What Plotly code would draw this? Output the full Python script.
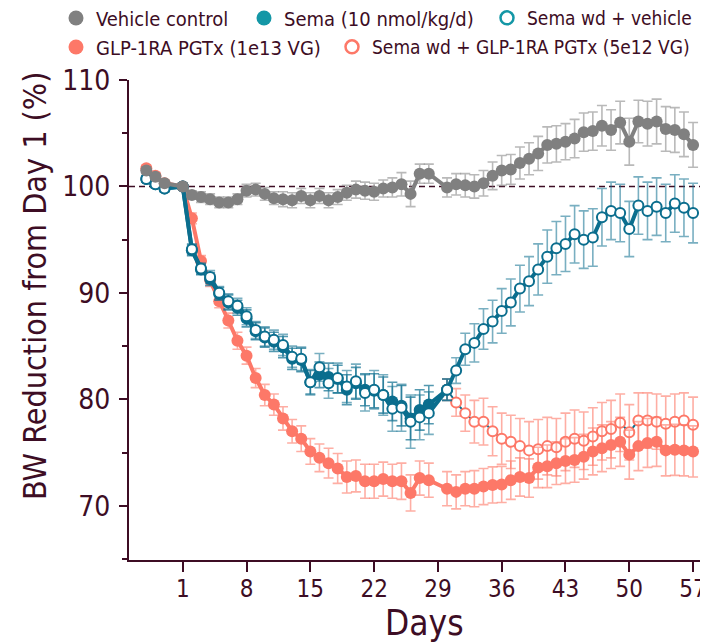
import plotly.graph_objects as go

days = [-3, -2, -1] + list(range(1, 29)) + list(range(30, 58))
days_wd = list(range(30, 58))

vehicle = [101.5, 100.9, 100.3, 100.0,
           99.2, 99.0, 98.8, 98.5, 98.5, 98.8, 99.6, 99.7, 99.3, 98.9, 98.8, 98.7, 99.1, 98.7,
           99.1, 98.7, 99.0, 99.4, 99.7, 99.6, 99.5, 99.8, 99.9, 100.2, 99.3, 101.2, 101.2,
           99.9, 100.2, 100.1, 100.0, 100.3, 101.0, 101.5, 101.6, 102.2, 102.6, 103.1, 103.9,
           104.0, 104.2, 104.5, 105.1, 105.2, 105.7, 105.3, 106.0, 104.2, 106.1, 105.9, 106.1,
           105.4, 105.3, 104.9, 103.9]
vehicle_err = [0.3, 0.3, 0.3, 0.0,
               0.4, 0.5, 0.5, 0.5, 0.5, 0.5, 0.6, 0.6, 0.6, 0.6, 0.7, 0.7, 0.7, 0.7,
               0.7, 0.7, 0.7, 0.7, 0.8, 0.8, 0.8, 0.8, 0.9, 1.1, 1.2, 0.9, 0.9,
               0.9, 1.0, 1.1, 1.1, 1.2, 1.3, 1.4, 1.4, 1.5, 1.5, 1.6, 1.7,
               1.7, 1.7, 1.8, 1.8, 1.8, 1.9, 1.9, 2.0, 2.2, 2.0, 2.1, 2.1,
               2.1, 2.1, 2.1, 2.1]

sema_days = [-3, -2, -1] + list(range(1, 29)) + [30]
sema = [100.7, 100.2, 99.8, 100.0,
        94.0, 92.2, 91.3, 89.9, 89.1, 88.6, 87.6, 86.4, 85.8, 85.4, 84.9, 83.8, 83.7, 81.6,
        82.3, 82.1, 81.9, 80.9, 81.5, 80.9, 80.8, 80.4, 79.8, 79.4, 78.2, 79.0, 79.5,
        80.9]
sema_err = [0.3, 0.3, 0.3, 0.0,
            0.5, 0.5, 0.6, 0.6, 0.7, 0.7, 0.8, 0.8, 0.9, 0.9, 1.0, 1.0, 1.1, 1.1,
            1.2, 1.3, 1.3, 1.4, 1.5, 1.5, 1.6, 1.7, 1.8, 1.9, 2.0, 1.9, 1.8,
            1.0]

sema_wd_veh = [100.7, 100.2, 99.8, 100.0,
               94.1, 92.3, 91.5, 90.0, 89.2, 88.8, 87.8, 86.5, 85.9, 85.6, 85.1, 84.0, 83.8, 81.6,
               83.0, 81.5, 82.0, 81.2, 81.7, 80.6, 80.9, 80.4, 79.1, 79.2, 77.9, 78.3, 78.7,
               80.9, 82.7, 84.7, 85.3, 86.6, 87.3, 88.3, 89.1, 90.4, 91.1, 92.2, 93.4,
               94.2, 94.6, 95.5, 95.0, 95.2, 97.1, 97.7, 97.5, 96.0, 98.2, 97.7, 98.1,
               97.5, 98.4, 98.0, 97.5]
sema_wd_veh_err = [0.3, 0.3, 0.3, 0.0,
                   0.5, 0.5, 0.6, 0.6, 0.7, 0.7, 0.8, 0.8, 0.9, 0.9, 1.0, 1.0, 1.1, 1.2,
                   1.3, 1.4, 1.4, 1.5, 1.6, 1.7, 1.8, 1.9, 2.1, 2.2, 2.5, 2.1, 2.0,
                   1.0, 1.2, 1.5, 1.8, 1.9, 2.0, 2.1, 2.2, 2.2, 2.3, 2.4, 2.5,
                   2.5, 2.6, 2.7, 2.7, 2.7, 2.7, 2.7, 2.7, 2.6, 2.7, 2.7, 2.7,
                   2.7, 2.7, 2.7, 2.8]

glp = [101.7, 101.0, 100.3, 100.0,
       97.0, 93.0, 91.2, 89.2, 87.4, 85.5, 84.1, 82.0, 80.4, 79.5, 78.2, 77.0, 76.3, 75.1,
       74.5, 74.0, 73.5, 72.7, 72.8, 72.3, 72.3, 72.5, 72.3, 72.3, 71.2, 72.6, 72.4,
       71.6, 71.3, 71.6, 71.6, 71.8, 71.95, 72.0, 72.4, 72.7, 72.6, 73.6, 73.7,
       74.0, 74.2, 74.3, 74.6, 75.1, 75.4, 75.7, 76.0, 74.8, 75.6, 75.9, 76.0,
       75.2, 75.25, 75.2, 75.1]
glp_err = [0.3, 0.3, 0.3, 0.0,
           0.5, 0.5, 0.6, 0.6, 0.7, 0.8, 0.8, 0.9, 1.0, 1.0, 1.1, 1.1, 1.2, 1.2,
           1.3, 1.4, 1.4, 1.5, 1.5, 1.6, 1.6, 1.6, 1.6, 1.7, 1.7, 1.6, 1.6,
           1.6, 1.6, 1.6, 1.7, 1.7, 1.7, 1.7, 1.8, 1.8, 1.8, 1.9, 2.0,
           2.0, 2.1, 2.1, 2.1, 2.2, 2.2, 2.2, 2.3, 2.3, 2.3, 2.3, 2.3,
           2.4, 2.4, 2.4, 2.4]

sema_wd_glp = [80.9, 79.7, 78.7, 77.9, 77.9, 77.0, 76.3, 76.0, 75.6, 75.2, 75.3, 75.6,
               75.5, 76.0, 76.3, 76.1, 76.5, 77.0, 77.2, 77.8, 76.9, 78.0, 78.0, 77.9,
               77.7, 77.9, 78.0, 77.6]
sema_wd_glp_err = [1.0, 1.3, 1.7, 2.0, 2.2, 2.3, 2.4, 2.5, 2.6, 2.7, 2.8, 2.7,
                   2.7, 2.7, 2.7, 2.7, 2.7, 2.7, 2.7, 2.7, 2.6, 2.6, 2.6, 2.6,
                   2.6, 2.6, 2.6, 2.6]

x_ticks = [1, 8, 15, 22, 29, 36, 43, 50, 57]
y_ticks = [70, 80, 90, 100, 110]
x_title = "Days"
y_title = "BW Reduction from Day 1 (%)"

GRAY = "#808080"
TEAL = "#0b6e8e"
TEAL_LEG = "#1497a6"
SALMON = "#fd7868"
AXIS = "#3d0d24"
FONT = "DejaVu Sans Condensed, Liberation Sans Narrow, Arial Narrow, Arial, sans-serif"

W, H = 700, 634   # page body has an 8px margin inside the 708x642 window
OFF = 8
ML, MR, MT, MB = 129 - OFF, 4, 80 - OFF, 82
PW, PH = W - ML - MR, H - MT - MB

fig = go.Figure()

def add_series(x, y, err, color, err_color, filled, line_color=None, lw=4):
    fig.add_trace(go.Scatter(
        x=x, y=y, mode="lines+markers", showlegend=False,
        line=dict(color=line_color or color, width=lw),
        marker=dict(size=12 if filled else 10,
                    color=color if filled else "white",
                    line=dict(color=color, width=0 if filled else 2)),
        error_y=dict(type="data", array=err, visible=True, color=err_color,
                     thickness=1.6, width=5),
    ))

add_series(days_wd, sema_wd_glp, sema_wd_glp_err, SALMON, "rgba(253,120,104,0.6)", False, line_color=TEAL, lw=2)
add_series(days, glp, glp_err, SALMON, "rgba(253,120,104,0.6)", True)
add_series(sema_days, sema, sema_err, TEAL, "rgba(11,110,142,0.7)", True)
add_series(days, sema_wd_veh, sema_wd_veh_err, TEAL, "rgba(11,110,142,0.55)", False)
add_series(days, vehicle, vehicle_err, GRAY, "rgba(128,128,128,0.55)", True)

legend_items = [
    ("Vehicle control", GRAY, True, 77, 18, 20),
    ("Sema (10 nmol/kg/d)", TEAL_LEG, True, 265, 18, 20),
    ("Sema wd + vehicle", TEAL_LEG, False, 508, 18, 19),
    ("GLP-1RA PGTx (1e13 VG)", SALMON, True, 77, 47, 20),
    ("Sema wd + GLP-1RA PGTx (5e12 VG)", SALMON, False, 353, 47, 19),
]
legends = {}
for i, (name, color, filled, cx, cy, fs) in enumerate(legend_items):
    key = "legend" if i == 0 else f"legend{i+1}"
    fig.add_trace(go.Scatter(
        x=[None], y=[None], mode="markers", name=name, legend=key,
        marker=dict(size=15 if filled else 13, color=color if filled else "white",
                    line=dict(color=color, width=0 if filled else 2.5)),
    ))
    legends[key] = dict(
        x=(cx - OFF - 21) / W, y=1 - (cy - OFF) / H, xref="container", yref="container",
        xanchor="left", yanchor="middle", orientation="h", bgcolor="rgba(0,0,0,0)",
        font=dict(family=FONT, size=fs, color=AXIS), itemsizing="trace",
    )

fig.add_shape(type="line", xref="paper", x0=0, x1=1, yref="y", y0=100, y1=100,
              line=dict(color=AXIS, width=1.6, dash="6px,4px"), layer="below")

fig.add_annotation(text=y_title, textangle=-90, showarrow=False,
                   xref="paper", yref="paper",
                   x=(35 - OFF - ML) / PW, y=(MT + PH - (286 - OFF)) / PH,
                   xanchor="center", yanchor="middle",
                   font=dict(family=FONT, size=32, color=AXIS))
fig.add_annotation(text=x_title, showarrow=False,
                   xref="paper", yref="paper",
                   x=(424 - OFF - ML) / PW, y=(MT + PH - (623 - OFF)) / PH,
                   xanchor="center", yanchor="middle",
                   font=dict(family=FONT, size=35, color=AXIS))

fig.update_layout(
    width=W, height=H,
    margin=dict(l=ML, r=MR, t=MT, b=MB, autoexpand=False),
    plot_bgcolor="white", paper_bgcolor="white",
    font=dict(family=FONT, color=AXIS),
    **legends,
)
fig.update_xaxes(
    range=[-4.9, 58.2], tickvals=x_ticks, ticktext=[str(t) for t in x_ticks],
    ticks="outside", ticklen=10, tickwidth=2, tickcolor=AXIS,
    showline=True, linewidth=2, linecolor=AXIS, showgrid=False, zeroline=False,
    tickfont=dict(size=24, color=AXIS), ticklabelstandoff=-4,
)
fig.update_yaxes(
    range=[64.9, 110], tickvals=y_ticks, ticktext=[str(t) for t in y_ticks],
    ticks="outside", ticklen=8, tickwidth=2, tickcolor=AXIS,
    minor=dict(tickvals=[65, 75, 85, 95, 105], ticks="outside", ticklen=5, tickwidth=2, tickcolor=AXIS),
    showline=True, linewidth=2, linecolor=AXIS, showgrid=False, zeroline=False,
    tickfont=dict(size=28, color=AXIS), ticklabelstandoff=3,
)

fig.write_html("out.html")
